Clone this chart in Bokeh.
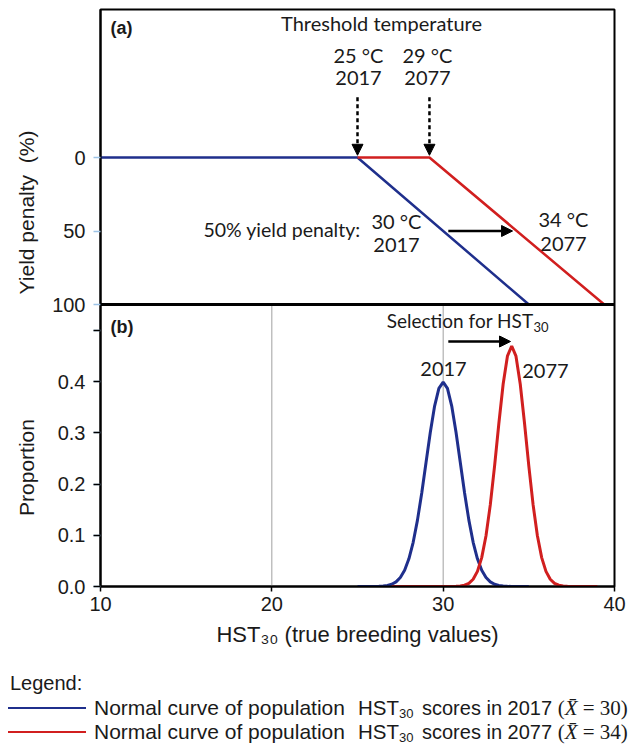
import math
from bokeh.plotting import figure
from bokeh.models import (Range1d, FixedTicker, Arrow, NormalHead, Label, Span, LinearAxis,
                          CustomJSTickFormatter, Div)
from bokeh.layouts import column
from bokeh.embed import file_html
from bokeh.resources import INLINE

# ---------------- data ----------------
# Panel (a): yield penalty (%) vs temperature
penalty_2017_x = [10, 25, 35]
penalty_2017_y = [0, 0, 100]
penalty_2077_x = [25, 29.2, 39.4]
penalty_2077_y = [0, 0, 100]
threshold_2017 = 25
threshold_2077 = 29.2

# Panel (b): normal curves of HST30
curve_2017_x = [25, 25.5, 26, 26.25, 26.5, 26.75, 27, 27.25, 27.5, 27.75, 28, 28.25, 28.5,
                28.75, 29, 29.25, 29.5, 29.75, 30, 30.25, 30.5, 30.75, 31, 31.25, 31.5, 31.75,
                32, 32.25, 32.5, 32.75, 33, 33.25, 33.5, 33.75, 34, 34.5, 35]
curve_2017_y = [0, 0, 0.0001, 0.0004, 0.0009, 0.0020, 0.0044, 0.0091, 0.0175, 0.0317, 0.0540,
                0.0863, 0.1295, 0.1826, 0.2420, 0.3011, 0.3521, 0.3867, 0.3989, 0.3867, 0.3521,
                0.3011, 0.2420, 0.1826, 0.1295, 0.0863, 0.0540, 0.0317, 0.0175, 0.0091, 0.0044,
                0.0020, 0.0009, 0.0004, 0.0001, 0, 0]
curve_2077_x = [27, 28, 29, 30, 30.5, 30.75, 31, 31.25, 31.5, 31.75, 32, 32.25, 32.5, 32.75, 33,
                33.25, 33.5, 33.75, 34, 34.25, 34.5, 34.75, 35, 35.25, 35.5, 35.75, 36, 36.25,
                36.5, 36.75, 37, 37.25, 37.5, 38, 39]
curve_2077_y = [0, 0, 0, 0, 0.0001, 0.0003, 0.0009, 0.0025, 0.0062, 0.0141, 0.0295, 0.0564,
                0.0989, 0.1592, 0.2349, 0.3180, 0.3947, 0.4494, 0.4693, 0.4494, 0.3947, 0.3180,
                0.2349, 0.1592, 0.0989, 0.0564, 0.0295, 0.0141, 0.0062, 0.0025, 0.0009, 0.0003,
                0.0001, 0, 0]

x_ticks = [10, 20, 30, 40]
penalty_ticks = [0, 50, 100]
proportion_ticks = [0, 0.1, 0.2, 0.3, 0.4, 0.5]
legend_years = ["2017", "2077"]
legend_means = ["30", "34"]

# ---------------- layout constants ----------------
BLUE = "#1F2F8C"
RED = "#D11F1F"
TXT = "#1a1a1a"
SANS = "Liberation Sans"
ANN = "Lato"

W = 629
FIG_H = 660
DIV_H = 84
FRAME_L, FRAME_R, FRAME_T, FRAME_B = 100, 614, 9, 586   # pixels
PX_PER_X = (FRAME_R - FRAME_L) / 30.0                   # 10..40
PX_PER_PROP = 512.5
PANEL_SPLIT = 304                                       # y of the divider
PX_PER_PEN = (PANEL_SPLIT - 157) / 100.0

prop_top = (FRAME_B - FRAME_T) / PX_PER_PROP
prop_split = (FRAME_B - PANEL_SPLIT) / PX_PER_PROP
pen_bottom = 100 + (FRAME_B - PANEL_SPLIT) / PX_PER_PEN
pen_top = 100 - (PANEL_SPLIT - FRAME_T) / PX_PER_PEN

def page_x(px):
    return 10 + (px - FRAME_L) / PX_PER_X

def page_y(py):
    return (FRAME_B - py) / PX_PER_PROP

def pen_to_prop(v):
    return prop_split + (100 - v) * PX_PER_PEN / PX_PER_PROP

p = figure(width=W, height=FIG_H, x_range=Range1d(10, 40), y_range=Range1d(0, prop_top),
           output_backend="svg", toolbar_location=None,
           min_border_left=FRAME_L, min_border_right=W - FRAME_R,
           min_border_top=FRAME_T, min_border_bottom=FIG_H - FRAME_B)
p.extra_y_ranges = {"pen": Range1d(start=pen_bottom, end=pen_top)}
p.grid.visible = False
p.outline_line_color = "black"
p.outline_line_width = 2
p.outline_line_alpha = 1

# x axis
xa = p.xaxis[0]
xa.ticker = FixedTicker(ticks=x_ticks, minor_ticks=[])
xa.axis_line_color = "black"
xa.axis_line_width = 2
xa.major_tick_line_color = "black"
xa.major_tick_out = 5
xa.major_tick_in = 0
xa.major_tick_line_width = 1.5
xa.major_label_standoff = 5
xa.major_label_text_font = SANS
xa.major_label_text_font_size = "20px"
xa.major_label_text_color = TXT
xa.axis_label = "HST\u2083\u2080 (true breeding values)"
xa.axis_label_text_font = SANS
xa.axis_label_text_font_size = "22px"
xa.axis_label_text_font_style = "normal"
xa.axis_label_text_color = TXT
xa.axis_label_standoff = 8

# combined left axis (proportion ticks below, penalty ticks above)
pen_tick_pos = [pen_to_prop(v) for v in penalty_ticks]
ya = p.yaxis[0]
ya.ticker = FixedTicker(ticks=proportion_ticks + pen_tick_pos, minor_ticks=proportion_ticks)
ya.formatter = CustomJSTickFormatter(
    args=dict(split=prop_split, k=PX_PER_PROP / PX_PER_PEN),
    code="""
    if (tick > split - 0.01) { return String(Math.round(100 - (tick - split) * k)); }
    if (tick > 0.45) { return ""; }
    return tick.toFixed(1);
    """)
ya.major_tick_line_color = "#9DC3E6"
ya.major_tick_line_width = 1.5
ya.major_tick_out = 7
ya.major_tick_in = 0
ya.minor_tick_line_color = "black"
ya.minor_tick_out = 7
ya.minor_tick_in = 0
ya.minor_tick_line_width = 1.5
ya.axis_line_color = "black"
ya.axis_line_width = 2
ya.major_label_standoff = 8
ya.major_label_text_font = SANS
ya.major_label_text_font_size = "20px"
ya.major_label_text_color = TXT

# outer left axis carrying the two panel titles at their own heights
title_pos = [page_y(467), page_y(212)]
ta = LinearAxis(ticker=FixedTicker(ticks=title_pos, minor_ticks=[]),
                formatter=CustomJSTickFormatter(
                    args=dict(split=prop_split),
                    code='return tick < split ? "Proportion" : "Yield penalty\u00a0\u00a0(%)";'))
ta.major_label_orientation = "vertical"
ta.major_tick_line_color = None
ta.major_tick_out = 0
ta.major_tick_in = 0
ta.minor_tick_line_color = None
ta.axis_line_color = None
ta.major_label_standoff = 12
ta.major_label_text_font = SANS
ta.major_label_text_font_size = "21px"
ta.major_label_text_color = TXT
p.add_layout(ta, "left")

# divider between panels
p.add_layout(Span(location=prop_split, dimension="width", line_color="black", line_width=3))

# ---- panel (a) glyphs ----
p.line(penalty_2017_x, penalty_2017_y, line_color=BLUE, line_width=2.5, y_range_name="pen")
p.line(penalty_2077_x, penalty_2077_y, line_color=RED, line_width=2.5, y_range_name="pen")

# ---- panel (b) glyphs ----
p.segment(x0=x_ticks[1:3], y0=[0, 0], x1=x_ticks[1:3], y1=[prop_split] * 2,
          line_color="#A0A0A0", line_width=1)
p.line(curve_2017_x, curve_2017_y, line_color=BLUE, line_width=3)
p.line(curve_2077_x, curve_2077_y, line_color=RED, line_width=3)

def lbl(x, y, t, size="20px", font=ANN, align="center", style="normal",
        baseline="middle", yr="default"):
    p.add_layout(Label(x=x, y=y, text=t, text_font=font, text_font_size=size,
                       text_align=align, text_baseline=baseline, text_font_style=style,
                       text_color=TXT, y_range_name=yr))

def arrow(x0, y0, x1, y1, yr="default", dash="solid"):
    p.add_layout(Arrow(end=NormalHead(size=11, fill_color="black", line_color="black"),
                       x_start=x0, y_start=y0, x_end=x1, y_end=y1, y_range_name=yr,
                       line_color="black", line_width=2.5, line_dash=dash))

# panel (a) annotations
lbl(page_x(110), page_y(27), "(a)", size="18px", font=SANS, align="left", style="bold")
lbl(page_x(381), page_y(22), "Threshold temperature")
lbl(page_x(358), page_y(54), "25 °C")
lbl(page_x(358), page_y(77), "2017")
lbl(page_x(427), page_y(54), "29 °C")
lbl(page_x(427), page_y(77), "2077")
lbl(page_x(203), page_y(229), "50% yield penalty:", size="19.5px", align="left")
lbl(page_x(396), page_y(220), "30 °C")
lbl(page_x(396), page_y(244), "2017")
lbl(page_x(563), page_y(218), "34 °C")
lbl(page_x(563), page_y(243), "2077")
for xt in [threshold_2017, threshold_2077]:
    arrow(xt, -41, xt, -1.5, yr="pen", dash="4 3")
arrow(30.3, 50, 34.05, 50, yr="pen")

# panel (b) annotations
lbl(page_x(110), page_y(326), "(b)", size="18px", font=SANS, align="left", style="bold")
lbl(page_x(533), page_y(320), "Selection for HST", size="19px", align="right")
lbl(page_x(533), page_y(326), "30", size="13px", align="left")
lbl(30.02, page_y(368), "2017")
lbl(35.97, page_y(370), "2077")
arrow(30.3, page_y(341), 33.93, page_y(341))

# ---------------- legend (HTML block under the chart) ----------------
legend_colors = [BLUE, RED]
row_centres = [48, 72]
rows_html = ""
for c, yr_txt, m, cy in zip(legend_colors, legend_years, legend_means, row_centres):
    rows_html += (
        f'<div style="position:absolute;left:8px;top:{cy - 1}px;width:78px;height:0;'
        f'border-top:2.5px solid {c};"></div>'
        f'<div style="position:absolute;left:94px;top:{cy - 12}px;line-height:24px;'
        f'font-size:21px;white-space:nowrap;">Normal curve of population</div>'
        f'<div style="position:absolute;left:358px;top:{cy - 12}px;line-height:24px;'
        f'font-size:20.5px;white-space:nowrap;">HST<span style="font-size:13px;'
        f'position:relative;top:3px;">30</span></div>'
        f'<div style="position:absolute;left:422px;top:{cy - 12}px;line-height:24px;'
        f'font-size:20px;white-space:nowrap;">scores in {yr_txt} '
        f'<span style="font-family:\'Liberation Serif\',serif;font-size:21px;">(<i>X\u0304</i>'
        f' = {m})</span></div>'
    )
legend_html = (
    f'<div style="position:relative;width:{W}px;height:{DIV_H}px;overflow:hidden;'
    f'font-family:\'Liberation Sans\',Arial,sans-serif;color:{TXT};">'
    f'<div style="position:absolute;left:10px;top:11px;line-height:24px;font-size:20px;">'
    f'Legend:</div>' + rows_html + '</div>'
)
legend_div = Div(text=legend_html, width=W, height=DIV_H, margin=(0, 0, 0, 0))

layout = column(p, legend_div, spacing=0)
open("out.html", "w").write(file_html(layout, INLINE))
